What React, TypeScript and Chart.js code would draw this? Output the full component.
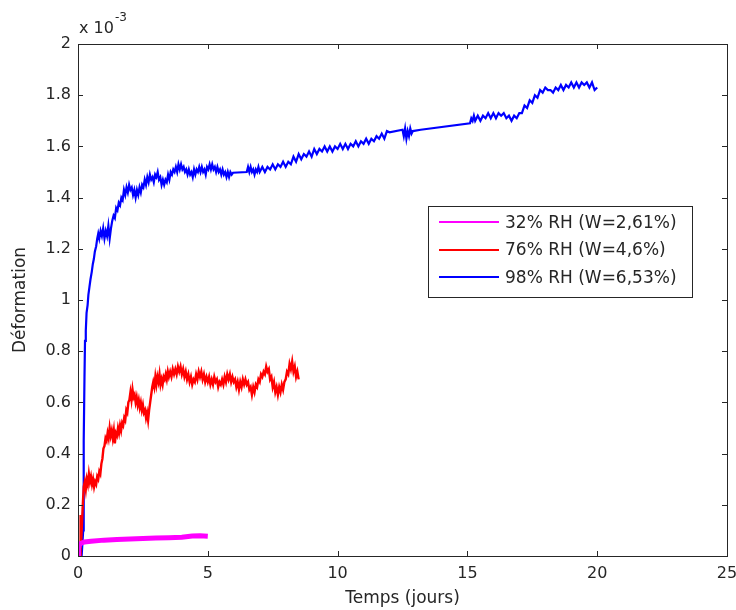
import React, { useEffect, useRef } from "react";
import { Chart, registerables } from "chart.js";

Chart.register(...registerables);

// Values in units of 1e-3 (axis shows "x 10^-3")
const X_TICKS = [0, 5, 10, 15, 20, 25];
const Y_TICKS = [0, 0.2, 0.4, 0.6, 0.8, 1, 1.2, 1.4, 1.6, 1.8, 2];
const X_TITLE = "Temps (jours)";
const Y_TITLE = "Déformation";
const LABELS = ["32% RH (W=2,61%)", "76% RH (W=4,6%)", "98% RH (W=6,53%)"];
const COLORS = ["#ff00ff", "#ff0000", "#0000ff"];

const RH32: [number, number][] = [
  [0, 0.01], [0.02, 0.03], [0.06, 0.045], [0.12, 0.05], [0.25, 0.055], [0.5, 0.058],
  [1.0, 0.062], [1.5, 0.064], [2.0, 0.066], [2.5, 0.068], [3.0, 0.07], [3.5, 0.071],
  [4.0, 0.073], [4.4, 0.078], [4.7, 0.079], [5.0, 0.077],
];

const RH76: [number, number][] = [
  [0.08, 0], [0.1, 0.16], [0.12, 0.05], [0.18, 0.19], [0.22, 0.27], [0.26, 0.29],
  [0.3, 0.26], [0.34, 0.3], [0.38, 0.28], [0.42, 0.32], [0.46, 0.29], [0.5, 0.31],
  [0.54, 0.28], [0.58, 0.3], [0.62, 0.27], [0.66, 0.29], [0.7, 0.28], [0.74, 0.31],
  [0.78, 0.3], [0.82, 0.33], [0.86, 0.32], [0.9, 0.36], [0.94, 0.38], [0.98, 0.42],
  [1.02, 0.43], [1.06, 0.46], [1.1, 0.45], [1.14, 0.48], [1.18, 0.46], [1.22, 0.5],
  [1.26, 0.47], [1.3, 0.49], [1.34, 0.46], [1.38, 0.49], [1.42, 0.44], [1.46, 0.48],
  [1.5, 0.47], [1.54, 0.5], [1.58, 0.48], [1.62, 0.51], [1.66, 0.49], [1.7, 0.52],
  [1.74, 0.51], [1.78, 0.54], [1.82, 0.53], [1.86, 0.57], [1.9, 0.56], [1.94, 0.6],
  [1.98, 0.61], [2.02, 0.64], [2.06, 0.61], [2.1, 0.65], [2.14, 0.62], [2.18, 0.63],
  [2.22, 0.6], [2.26, 0.62], [2.3, 0.59], [2.34, 0.61], [2.38, 0.58], [2.42, 0.6],
  [2.46, 0.57], [2.5, 0.59], [2.54, 0.56], [2.58, 0.57], [2.62, 0.54], [2.66, 0.56],
  [2.7, 0.53], [2.74, 0.57], [2.78, 0.6], [2.82, 0.63], [2.86, 0.66], [2.9, 0.68],
  [2.94, 0.66], [2.98, 0.7], [3.02, 0.67], [3.06, 0.7], [3.1, 0.68], [3.14, 0.71],
  [3.18, 0.67], [3.22, 0.69], [3.26, 0.67], [3.3, 0.7], [3.34, 0.69], [3.38, 0.71],
  [3.42, 0.69], [3.46, 0.72], [3.5, 0.7], [3.55, 0.72], [3.6, 0.7], [3.65, 0.73],
  [3.7, 0.71], [3.75, 0.73], [3.8, 0.71], [3.85, 0.74], [3.9, 0.72], [3.95, 0.74],
  [4.0, 0.71], [4.05, 0.73], [4.1, 0.7], [4.15, 0.72], [4.2, 0.69], [4.25, 0.71],
  [4.3, 0.68], [4.35, 0.7], [4.4, 0.67], [4.45, 0.69], [4.5, 0.68], [4.55, 0.71],
  [4.6, 0.69], [4.65, 0.72], [4.7, 0.7], [4.75, 0.72], [4.8, 0.69], [4.85, 0.71],
  [4.9, 0.68], [4.95, 0.7], [5.0, 0.68], [5.05, 0.7], [5.1, 0.67], [5.15, 0.69],
  [5.2, 0.67], [5.25, 0.7], [5.3, 0.68], [5.35, 0.69], [5.4, 0.66], [5.45, 0.68],
  [5.5, 0.67], [5.55, 0.69], [5.6, 0.67], [5.65, 0.7], [5.7, 0.68], [5.75, 0.71],
  [5.8, 0.69], [5.85, 0.71], [5.9, 0.68], [5.95, 0.7], [6.0, 0.68], [6.05, 0.69],
  [6.1, 0.66], [6.15, 0.68], [6.2, 0.65], [6.25, 0.68], [6.3, 0.66], [6.35, 0.69],
  [6.4, 0.67], [6.45, 0.69], [6.5, 0.67], [6.55, 0.68], [6.6, 0.65], [6.65, 0.66],
  [6.7, 0.63], [6.75, 0.66], [6.8, 0.64], [6.85, 0.67], [6.9, 0.66], [6.95, 0.69],
  [7.0, 0.68], [7.05, 0.71], [7.1, 0.7], [7.15, 0.72], [7.2, 0.71], [7.25, 0.74],
  [7.3, 0.72], [7.35, 0.73], [7.4, 0.69], [7.45, 0.7], [7.5, 0.66], [7.55, 0.68],
  [7.6, 0.64], [7.65, 0.66], [7.7, 0.63], [7.75, 0.66], [7.8, 0.64], [7.85, 0.67],
  [7.9, 0.65], [7.95, 0.68], [8.0, 0.69], [8.05, 0.72], [8.1, 0.71], [8.15, 0.75],
  [8.2, 0.73], [8.25, 0.76], [8.3, 0.72], [8.35, 0.74], [8.4, 0.7], [8.45, 0.72],
  [8.5, 0.69],
];

const RH98: [number, number][] = [
  [0.14, 0], [0.2, 0.1], [0.22, 0.45], [0.25, 0.7], [0.27, 0.84], [0.3, 0.88],
  [0.33, 0.95], [0.37, 0.98], [0.4, 1.02], [0.44, 1.05], [0.48, 1.08], [0.53, 1.11],
  [0.57, 1.14], [0.61, 1.16], [0.65, 1.19], [0.7, 1.21], [0.74, 1.24], [0.78, 1.26],
  [0.82, 1.24], [0.87, 1.27], [0.92, 1.25], [0.97, 1.28], [1.02, 1.24], [1.07, 1.27],
  [1.12, 1.25], [1.17, 1.29], [1.22, 1.24], [1.27, 1.28], [1.32, 1.31], [1.37, 1.33],
  [1.42, 1.32], [1.47, 1.36], [1.52, 1.35], [1.57, 1.38], [1.62, 1.37], [1.67, 1.4],
  [1.72, 1.39], [1.77, 1.43], [1.82, 1.41], [1.87, 1.44], [1.92, 1.42], [1.97, 1.45],
  [2.02, 1.43], [2.07, 1.44], [2.12, 1.41], [2.17, 1.43], [2.22, 1.4], [2.27, 1.43],
  [2.32, 1.41], [2.37, 1.44], [2.42, 1.42], [2.47, 1.45], [2.52, 1.44], [2.57, 1.47],
  [2.62, 1.45], [2.67, 1.48], [2.72, 1.46], [2.77, 1.49], [2.82, 1.47], [2.87, 1.48],
  [2.92, 1.46], [2.97, 1.49], [3.02, 1.48], [3.07, 1.5], [3.12, 1.47], [3.17, 1.48],
  [3.22, 1.45], [3.27, 1.47], [3.32, 1.45], [3.37, 1.47], [3.42, 1.46], [3.47, 1.49],
  [3.52, 1.47], [3.57, 1.5], [3.62, 1.49], [3.67, 1.51], [3.72, 1.5], [3.77, 1.52],
  [3.82, 1.5], [3.87, 1.53], [3.92, 1.51], [3.97, 1.53], [4.02, 1.51], [4.07, 1.52],
  [4.12, 1.5], [4.17, 1.51], [4.22, 1.49], [4.27, 1.51], [4.32, 1.49], [4.37, 1.5],
  [4.42, 1.48], [4.47, 1.51], [4.52, 1.49], [4.57, 1.51], [4.62, 1.5], [4.67, 1.52],
  [4.72, 1.5], [4.77, 1.52], [4.82, 1.5], [4.87, 1.51], [4.92, 1.49], [4.97, 1.52],
  [5.02, 1.51], [5.07, 1.53], [5.12, 1.51], [5.17, 1.53], [5.22, 1.51], [5.27, 1.52],
  [5.32, 1.5], [5.37, 1.52], [5.42, 1.5], [5.47, 1.51], [5.52, 1.49], [5.57, 1.51],
  [5.62, 1.49], [5.67, 1.5], [5.72, 1.48], [5.77, 1.5], [5.82, 1.48], [5.87, 1.5],
  [5.92, 1.49], [5.97, 1.497], [6.5, 1.5], [6.55, 1.52], [6.6, 1.5], [6.65, 1.52],
  [6.7, 1.5], [6.75, 1.51], [6.8, 1.49], [6.85, 1.51], [6.9, 1.5], [6.95, 1.52],
  [7.0, 1.5], [7.1, 1.52], [7.2, 1.5], [7.3, 1.52], [7.4, 1.51], [7.5, 1.53],
  [7.6, 1.51], [7.7, 1.53], [7.8, 1.52], [7.9, 1.54], [8.0, 1.52], [8.1, 1.54],
  [8.2, 1.53], [8.3, 1.56], [8.4, 1.54], [8.5, 1.57], [8.6, 1.55], [8.7, 1.57],
  [8.8, 1.56], [8.9, 1.58], [9.0, 1.56], [9.1, 1.59], [9.2, 1.57], [9.3, 1.59],
  [9.4, 1.58], [9.5, 1.6], [9.6, 1.58], [9.7, 1.6], [9.8, 1.58], [9.9, 1.6],
  [10.0, 1.59], [10.1, 1.61], [10.2, 1.59], [10.3, 1.61], [10.4, 1.59], [10.5, 1.61],
  [10.6, 1.6], [10.7, 1.62], [10.8, 1.6], [10.9, 1.62], [11.0, 1.61], [11.1, 1.63],
  [11.2, 1.61], [11.3, 1.63], [11.4, 1.62], [11.5, 1.64], [11.6, 1.63], [11.7, 1.65],
  [11.8, 1.63], [11.9, 1.66], [12.0, 1.655], [12.5, 1.665], [12.55, 1.64], [12.6, 1.67],
  [12.65, 1.63], [12.7, 1.66], [12.75, 1.64], [12.8, 1.67], [12.85, 1.65], [12.9, 1.66],
  [13.2, 1.665], [15.1, 1.69], [15.15, 1.71], [15.2, 1.7], [15.25, 1.72], [15.3, 1.7],
  [15.4, 1.72], [15.5, 1.7], [15.6, 1.72], [15.7, 1.71], [15.8, 1.73], [15.9, 1.71],
  [16.0, 1.73], [16.1, 1.71], [16.2, 1.73], [16.3, 1.72], [16.4, 1.73], [16.5, 1.71],
  [16.6, 1.72], [16.7, 1.7], [16.8, 1.72], [16.9, 1.71], [17.0, 1.73], [17.1, 1.73],
  [17.2, 1.76], [17.3, 1.75], [17.4, 1.78], [17.5, 1.77], [17.6, 1.8], [17.7, 1.79],
  [17.8, 1.82], [17.9, 1.81], [18.0, 1.83], [18.1, 1.82], [18.2, 1.82], [18.3, 1.81],
  [18.4, 1.83], [18.5, 1.82], [18.6, 1.84], [18.7, 1.82], [18.8, 1.84], [18.9, 1.83],
  [19.0, 1.85], [19.1, 1.83], [19.2, 1.85], [19.3, 1.83], [19.4, 1.85], [19.5, 1.84],
  [19.6, 1.85], [19.7, 1.83], [19.8, 1.85], [19.9, 1.82], [20.0, 1.83],
];

const SERIES = [RH32, RH76, RH98];
const WIDTHS = [5, 2.4, 2.2];

const FONT = '"DejaVu Sans", sans-serif';
const INK = "#262626";

const framePlugin = {
  id: "matlabFrame",
  afterDraw(chart: any) {
    const { ctx, chartArea } = chart;
    const { left, right, top, bottom } = chartArea;
    const xs = chart.scales.x;
    const ys = chart.scales.y;
    ctx.save();
    ctx.strokeStyle = INK;
    ctx.lineWidth = 1;
    ctx.strokeRect(left + 0.5, top + 0.5, right - left, bottom - top);
    ctx.beginPath();
    const tl = 5;
    X_TICKS.forEach((v) => {
      const px = Math.round(xs.getPixelForValue(v)) + 0.5;
      ctx.moveTo(px, bottom);
      ctx.lineTo(px, bottom - tl);
      ctx.moveTo(px, top);
      ctx.lineTo(px, top + tl);
    });
    Y_TICKS.forEach((v) => {
      const py = Math.round(ys.getPixelForValue(v)) + 0.5;
      ctx.moveTo(left, py);
      ctx.lineTo(left + tl, py);
      ctx.moveTo(right, py);
      ctx.lineTo(right - tl, py);
    });
    ctx.stroke();

    // exponent label
    ctx.fillStyle = INK;
    ctx.textBaseline = "alphabetic";
    ctx.textAlign = "left";
    ctx.font = `16px ${FONT}`;
    ctx.fillText("x 10", left + 1, top - 11);
    const w = ctx.measureText("x 10").width;
    ctx.font = `12px ${FONT}`;
    ctx.fillText("-3", left + 1 + w + 1, top - 23);

    // legend
    const bx = 428.5, by = 206.5, bw = 264, bh = 91;
    ctx.fillStyle = "#ffffff";
    ctx.fillRect(bx, by, bw, bh);
    ctx.strokeStyle = INK;
    ctx.strokeRect(bx, by, bw, bh);
    ctx.font = `17px ${FONT}`;
    ctx.textBaseline = "middle";
    LABELS.forEach((lab, i) => {
      const ry = 222 + i * 27.5;
      ctx.strokeStyle = COLORS[i];
      ctx.lineWidth = 2;
      ctx.beginPath();
      ctx.moveTo(439, Math.round(ry));
      ctx.lineTo(499, Math.round(ry));
      ctx.stroke();
      ctx.fillStyle = INK;
      ctx.fillText(lab, 505, ry + 1.5);
    });
    ctx.restore();
  },
};

export default function App() {
  const ref = useRef<HTMLCanvasElement | null>(null);
  useEffect(() => {
    if (!ref.current) return;
    const chart = new Chart(ref.current, {
      type: "line",
      data: {
        datasets: SERIES.map((s, i) => ({
          label: LABELS[i],
          data: s.map(([x, y]) => ({ x, y })),
          borderColor: COLORS[i],
          backgroundColor: COLORS[i],
          borderWidth: WIDTHS[i],
          pointRadius: 0,
          tension: 0,
          fill: false,
        })),
      },
      options: {
        animation: false,
        responsive: false,
        devicePixelRatio: 1,
        layout: { padding: { left: 0, top: 44, right: 9, bottom: 0 } },
        plugins: { legend: { display: false }, tooltip: { enabled: false } },
        scales: {
          x: {
            type: "linear",
            min: 0,
            max: 25,
            grid: { display: false, drawTicks: false },
            border: { display: false },
            ticks: {
              stepSize: 5,
              padding: 8,
              color: INK,
              font: { family: FONT, size: 16 },
              maxRotation: 0,
              autoSkip: false,
            },
            title: {
              display: true,
              text: X_TITLE,
              color: INK,
              font: { family: FONT, size: 17 },
              padding: { top: 0, bottom: 1 },
            },
            afterFit(scale: any) {
              scale.height = 54;
              scale.paddingLeft = 0;
              scale.paddingRight = 0;
            },
          },
          y: {
            type: "linear",
            min: 0,
            max: 2,
            grid: { display: false, drawTicks: false },
            border: { display: false },
            ticks: {
              stepSize: 0.2,
              padding: 7,
              color: INK,
              font: { family: FONT, size: 16 },
              callback: (v: any) => String(Number(Number(v).toFixed(1))),
            },
            title: {
              display: true,
              text: Y_TITLE,
              color: INK,
              font: { family: FONT, size: 17 },
              padding: { top: 10, bottom: 0 },
            },
            afterFit(scale: any) {
              scale.width = 78;
              scale.paddingTop = 0;
              scale.paddingBottom = 0;
            },
          },
        },
      },
      plugins: [framePlugin],
    });
    return () => chart.destroy();
  }, []);
  return (
    <div style={{ position: "fixed", left: 0, top: 0, width: 736, height: 610, background: "#fff" }}>
      <canvas ref={ref} width={736} height={610} style={{ width: 736, height: 610 }} />
    </div>
  );
}
